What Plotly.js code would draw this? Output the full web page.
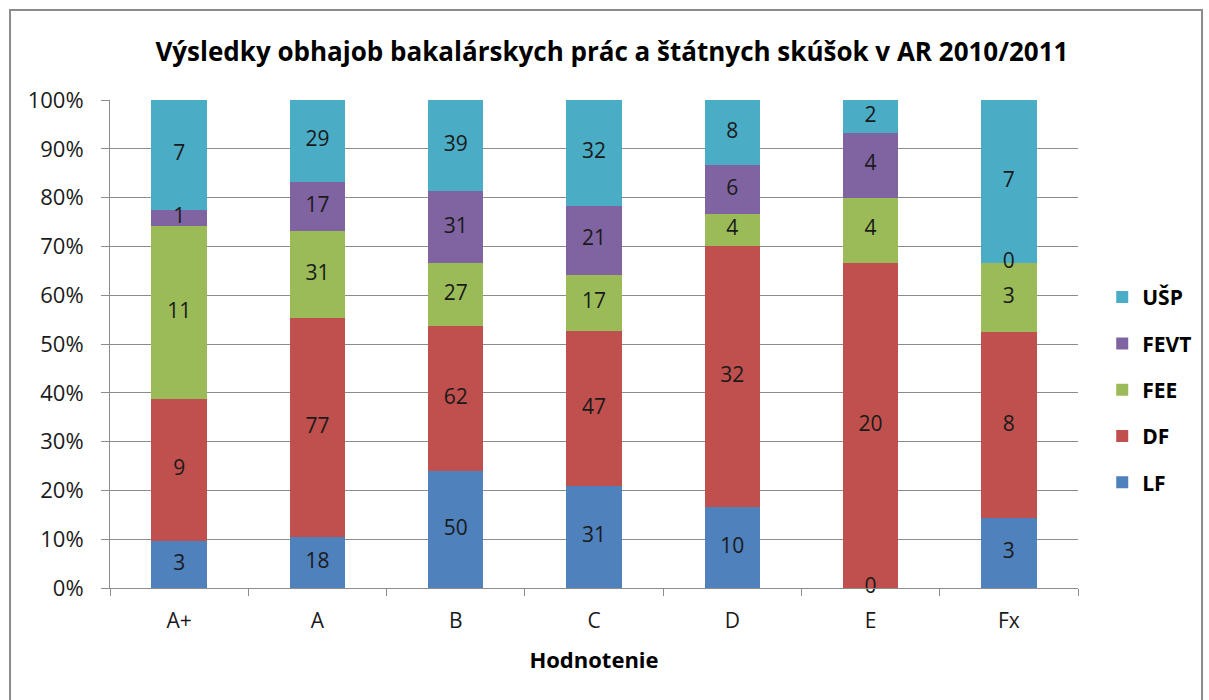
<!DOCTYPE html>
<html>
<head>
<meta charset="utf-8">
<script src="https://cdn.plot.ly/plotly-3.0.1.min.js"></script>
<style>
  body { margin: 0; background: #fff; overflow: hidden; }
  #frame { position: absolute; left: 9px; top: 9px; width: 1190px; height: 720px; border: 2px solid #8c8c8c; }
  #chart { width: 1190px; height: 689px; }
</style>
</head>
<body>
<div id="frame"><div id="chart"></div></div>
<script>
const grades = ['A+', 'A', 'B', 'C', 'D', 'E', 'Fx'];
const lf   = [3, 18, 50, 31, 10, 0, 3];
const df   = [9, 77, 62, 47, 32, 20, 8];
const fee  = [11, 31, 27, 17, 4, 4, 3];
const fevt = [1, 17, 31, 21, 6, 4, 0];
const usp  = [7, 29, 39, 32, 8, 2, 7];

const seriesNames = ['LF', 'DF', 'FEE', 'FEVT', 'UŠP'];
const seriesVals = [lf, df, fee, fevt, usp];
const colors = ['#4F81BD', '#C0504D', '#9BBB59', '#8064A2', '#4BACC6'];

const font = '"Open Sans", sans-serif';

const traces = seriesNames.map((name, i) => ({
    type: 'bar',
    name: '<b>' + name + '</b>',
    x: grades,
    y: seriesVals[i],
    marker: { color: colors[i] },
    legendgroup: name,
    legendrank: 10 - i,
    hoverinfo: 'skip'
}));

// value labels at the middle of each stacked segment (in percent of the column)
const lx = [], ly = [], lt = [];
grades.forEach((g, c) => {
    const total = seriesVals.reduce((s, arr) => s + arr[c], 0);
    let cum = 0;
    seriesVals.forEach(arr => {
        lx.push(g);
        ly.push((cum + arr[c] / 2) / total * 100);
        lt.push(String(arr[c]));
        cum += arr[c];
    });
});
traces.push({
    type: 'scatter', mode: 'text', x: lx, y: ly, text: lt,
    textposition: 'middle center',
    textfont: { family: font, size: 21, color: '#1a1a1a' },
    showlegend: false, hoverinfo: 'skip', cliponaxis: false
});

const layout = {
    barmode: 'stack',
    barnorm: 'percent',
    bargap: 0.6,
    margin: { l: 99, r: 123, t: 89, b: 112 },
    paper_bgcolor: '#fff',
    plot_bgcolor: '#fff',
    font: { family: font, color: '#1a1a1a' },
    title: {
        text: '<b>Výsledky obhajob bakalárskych prác a štátnych skúšok v AR 2010/2011</b>',
        font: { family: font, size: 26, color: '#000' },
        x: 0.505, xanchor: 'center', y: 0.94, yanchor: 'middle'
    },
    xaxis: {
        title: { text: '<b>Hodnotenie</b>', font: { family: font, size: 22, color: '#000' }, standoff: 19 },
        tickfont: { family: font, size: 21, color: '#1a1a1a' },
        ticklabelstandoff: 14,
        showline: true, linecolor: '#8c8c8c', linewidth: 1,
        ticks: 'outside', tickson: 'boundaries', ticklen: 7, tickcolor: '#8c8c8c',
        showgrid: false
    },
    yaxis: {
        range: [0, 100], dtick: 10, ticksuffix: '%',
        tickfont: { family: font, size: 22, color: '#1a1a1a' },
        ticklabelstandoff: 13,
        showline: true, linecolor: '#8c8c8c', linewidth: 1,
        ticks: 'outside', ticklen: 8, tickcolor: '#8c8c8c',
        gridcolor: '#8c8c8c', gridwidth: 1, zeroline: false
    },
    legend: {
        xref: 'container', yref: 'container',
        x: 0.917, xanchor: 'left', y: 0.45, yanchor: 'middle',
        traceorder: 'grouped', tracegroupgap: 16,
        font: { family: font, size: 21, color: '#000' },
        itemclick: false
    },
    showlegend: true
};

Plotly.newPlot('chart', traces, layout, { displayModeBar: false, staticPlot: true });
</script>
</body>
</html>
